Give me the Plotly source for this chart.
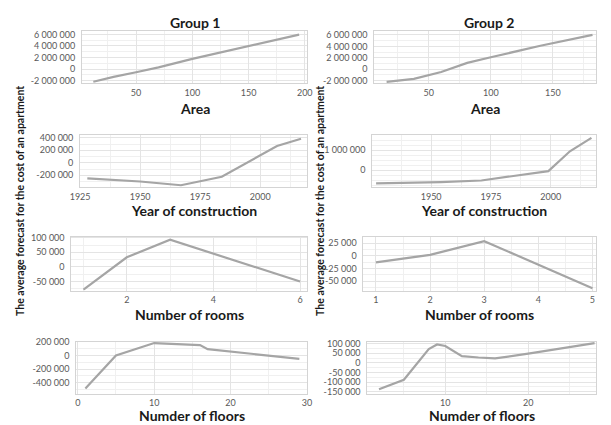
import plotly.graph_objects as go

W, H = 611, 425

# ---- data: average forecast of apartment cost by feature, two groups ----
area_g1_x = [12, 30, 50, 70, 100, 130, 160, 195]
area_g1_y = [-2200000, -1350000, -550000, 300000, 1750000, 3100000, 4400000, 5950000]
area_g2_x = [16, 38, 60, 81, 100, 140, 182]
area_g2_y = [-2200000, -1700000, -500000, 1100000, 2100000, 4100000, 6000000]

year_g1_x = [1928, 1950, 1967, 1984, 2007, 2017]
year_g1_y = [-250000, -300000, -360000, -225000, 270000, 385000]
year_g2_x = [1927, 1954, 1971, 1985, 1999, 2008, 2017]
year_g2_y = [-650000, -590000, -510000, -270000, -40000, 950000, 1620000]

rooms_g1_x = [1, 2, 3, 4, 5, 6]
rooms_g1_y = [-78000, 33000, 93000, 45000, -2000, -50000]
rooms_g2_x = [1, 2, 3, 4, 5]
rooms_g2_y = [-13000, 2000, 29000, -17000, -64000]

floors_g1_x = [1, 5, 10, 13, 16, 17, 20, 25, 29]
floors_g1_y = [-490000, 0, 185000, 170000, 155000, 95000, 60000, 5000, -50000]
floors_g2_x = [2, 5, 8, 9, 10, 12, 14, 16, 20, 24, 28]
floors_g2_y = [-138000, -88000, 72000, 96000, 88000, 35000, 28000, 23000, 48000, 75000, 103000]

group_titles = ["Group 1", "Group 2"]
x_titles = ["Area", "Year of construction", "Number of rooms", "Numder of floors"]
y_title = "The average forecast for the cost of an apartment"

# tick values / labels per panel
area_xt_g1 = [50, 100, 150, 200]
area_xt_g2 = [50, 100, 150]
area_yt = [-2000000, 0, 2000000, 4000000, 6000000]
area_yl = ["-2 000 000", "0", "2 000 000", "4 000 000", "6 000 000"]

year_xt_g1 = [1925, 1950, 1975, 2000]
year_xt_g2 = [1950, 1975, 2000]
year_yt_g1 = [-200000, 0, 200000, 400000]
year_yl_g1 = ["-200 000", "0", "200 000", "400 000"]
year_yt_g2 = [0, 1000000]
year_yl_g2 = ["0", "1 000 000"]

rooms_xt_g1 = [2, 4, 6]
rooms_xt_g2 = [1, 2, 3, 4, 5]
rooms_yt_g1 = [-50000, 0, 50000, 100000]
rooms_yl_g1 = ["-50 000", "0", "50 000", "100 000"]
rooms_yt_g2 = [-50000, -25000, 0, 25000]
rooms_yl_g2 = ["-50 000", "-25 000", "0", "25 000"]

floors_xt_g1 = [0, 10, 20, 30]
floors_xt_g2 = [10, 20]
floors_yt_g1 = [-400000, -200000, 0, 200000]
floors_yl_g1 = ["-400 000", "-200 000", "0", "200 000"]
floors_yt_g2 = [-150000, -100000, -50000, 0, 50000, 100000]
floors_yl_g2 = ["-150 000", "-100 000", "-50 000", "0", "50 000", "100 000"]

# ---- panel geometry (pixels) ----
row_y = [(27, 80), (133, 186), (236, 291), (343, 396)]
col_x = [
    [(74, 305), (72, 305), (63, 305), (68, 305)],
    [(374, 602), (372, 602), (363, 602), (367, 602)],
]

panels = [
    # (row, col, x, y, xrange, yrange, xticks, yticks, ylabels, xminor, yminor)
    (0, 0, area_g1_x, area_g1_y, [2, 202], [-2500000, 6500000], area_xt_g1, area_yt, area_yl, 25, 1000000),
    (0, 1, area_g2_x, area_g2_y, [6, 185], [-2500000, 6600000], area_xt_g2, area_yt, area_yl, 25, 1000000),
    (1, 0, year_g1_x, year_g1_y, [1925, 2019.5], [-396000, 437000], year_xt_g1, year_yt_g1, year_yl_g1, 12.5, 100000),
    (1, 1, year_g2_x, year_g2_y, [1925.4, 2019], [-860000, 1740000], year_xt_g2, year_yt_g2, year_yl_g2, 12.5, 250000),
    (2, 0, rooms_g1_x, rooms_g1_y, [0.72, 6.16], [-81000, 104000], rooms_xt_g1, rooms_yt_g1, rooms_yl_g1, 1, 25000),
    (2, 1, rooms_g2_x, rooms_g2_y, [0.77, 5.07], [-68500, 38000], rooms_xt_g2, rooms_yt_g2, rooms_yl_g2, 0.5, 12500),
    (3, 0, floors_g1_x, floors_g1_y, [-0.2, 30], [-563000, 207000], floors_xt_g1, floors_yt_g1, floors_yl_g1, 5, 100000),
    (3, 1, floors_g2_x, floors_g2_y, [0.6, 28.2], [-160000, 111000], floors_xt_g2, floors_yt_g2, floors_yl_g2, 5, 25000),
]

TICK_FONT = dict(family="Lato", size=9, color="#595959")
TITLE_FONT = dict(family="Lato", size=14, color="#1a1a1a")
LINE_COLOR = "#a5a5a5"
GRID = "#e4e4e4"
MINOR_GRID = "#f0f0f0"
FRAME = "#d4d4d4"

fig = go.Figure()
layout = {}
annotations = []

for i, (r, c, xs, ys, xr, yr, xt, yt, yl, xmin, ymin) in enumerate(panels):
    n = i + 1
    xa = "x" if n == 1 else f"x{n}"
    ya = "y" if n == 1 else f"y{n}"
    x0, x1 = col_x[c][r]
    y0, y1 = row_y[r]
    fig.add_trace(go.Scatter(
        x=xs, y=ys, mode="lines", xaxis=xa, yaxis=ya,
        line=dict(color=LINE_COLOR, width=2.2), showlegend=False, hoverinfo="skip",
    ))
    layout[f"xaxis{'' if n == 1 else n}"] = dict(
        domain=[x0 / W, x1 / W], anchor=ya, range=xr,
        tickvals=xt, ticktext=[str(v) for v in xt], tickfont=TICK_FONT,
        showgrid=True, gridcolor=GRID, gridwidth=1, zeroline=False,
        showline=True, mirror=True, linecolor=FRAME, linewidth=1,
        ticks="", ticklabelstandoff=1,
        minor=dict(dtick=xmin, tick0=0, showgrid=True, gridcolor=MINOR_GRID),
    )
    layout[f"yaxis{'' if n == 1 else n}"] = dict(
        domain=[1 - y1 / H, 1 - y0 / H], anchor=xa, range=yr,
        tickvals=yt, ticktext=yl, tickfont=TICK_FONT,
        showgrid=True, gridcolor=GRID, gridwidth=1, zeroline=False,
        showline=True, mirror=True, linecolor=FRAME, linewidth=1,
        ticks="", ticklabelstandoff=4,
        minor=dict(dtick=ymin, tick0=0, showgrid=True, gridcolor=MINOR_GRID),
    )

# axis titles under each panel
title_y = [105, 209, 315, 418]
for c in range(2):
    for r in range(4):
        x0, x1 = col_x[c][r]
        annotations.append(dict(
            x=(x0 + x1) / 2 / W, y=1 - title_y[r] / H, xref="paper", yref="paper",
            text=f"<b>{x_titles[r]}</b>", showarrow=False, font=TITLE_FONT,
            xanchor="center", yanchor="middle",
        ))

# group headers
for c, gx in enumerate([190, 492]):
    annotations.append(dict(
        x=gx / W, y=1 - 18 / H, xref="paper", yref="paper",
        text=f"<b>{group_titles[c]}</b>", showarrow=False, font=TITLE_FONT,
        xanchor="center", yanchor="middle",
    ))

# shared vertical value label for each column
for lx in [10, 319]:
    annotations.append(dict(
        x=lx / W, y=1 - 200 / H, xref="paper", yref="paper",
        text=f"<b>{y_title}</b>", showarrow=False, textangle=-90,
        font=dict(family="Lato", size=10.5, color="#1a1a1a"),
        xanchor="center", yanchor="middle",
    ))

fig.update_layout(
    width=W, height=H, margin=dict(l=0, r=0, t=0, b=0),
    paper_bgcolor="white", plot_bgcolor="white",
    annotations=annotations, **layout,
)

fig.write_html("out.html")
